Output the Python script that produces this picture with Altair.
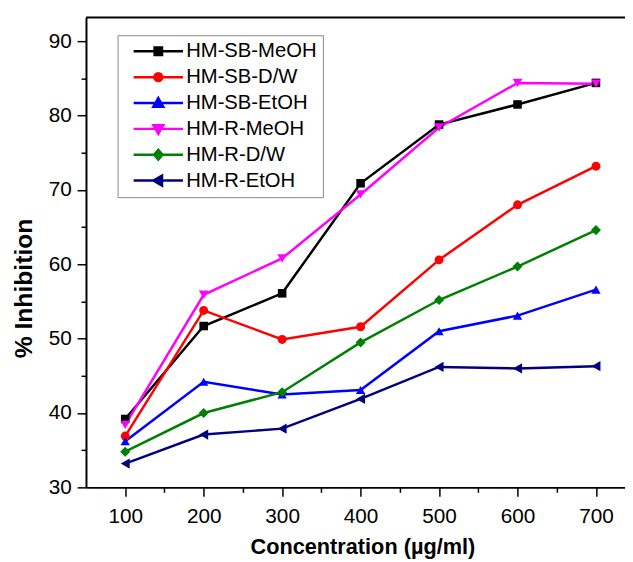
import altair as alt
import pandas as pd

# ---- data ----
conc = [100, 200, 300, 400, 500, 600, 700]
series_names = ["HM-SB-MeOH", "HM-SB-D/W", "HM-SB-EtOH", "HM-R-MeOH", "HM-R-D/W", "HM-R-EtOH"]
sb_meoh = [39.2, 51.7, 56.1, 70.9, 78.8, 81.5, 84.4]
sb_dw = [36.9, 53.8, 49.9, 51.6, 60.6, 68.0, 73.2]
sb_etoh = [36.2, 44.2, 42.5, 43.1, 51.0, 53.1, 56.6]
r_meoh = [38.4, 55.9, 60.8, 69.4, 78.4, 84.4, 84.3]
r_dw = [34.8, 40.0, 42.8, 49.5, 55.2, 59.7, 64.6]
r_etoh = [33.2, 37.1, 37.9, 41.9, 46.2, 46.0, 46.3]

x_major = [100, 200, 300, 400, 500, 600, 700]
x_minor = [150, 250, 350, 450, 550, 650]
y_major = [30, 40, 50, 60, 70, 80, 90]
y_minor = [35, 45, 55, 65, 75, 85]

# ---- styles ----
colors = ["#000000", "#ff0000", "#0000ff", "#ff00ff", "#008000", "#000080"]
shapes = ["square", "circle", "triangle-up", "triangle-down", "diamond", "triangle-left"]
marker_sizes = [75, 110, 130, 130, 130, 120]
# legend glyphs: a 50px line with the marker on it (unit = 5px at symbolSize 100)
legend_paths = [
    "M-5,0H5M-0.75,-0.75H0.75V0.75H-0.75Z",
    "M-5,0H5M-0.8,0A0.8,0.8,0,1,0,0.8,0A0.8,0.8,0,1,0,-0.8,0Z",
    "M-5,0H5M0,-1L1,0.75L-1,0.75Z",
    "M-5,0H5M0,1L1,-0.75L-1,-0.75Z",
    "M-5,0H5M0,-1L0.85,0L0,1L-0.85,0Z",
    "M-5,0H5M-1,0L0.75,-1L0.75,1Z",
]

rows = []
for name, vals in zip(series_names, [sb_meoh, sb_dw, sb_etoh, r_meoh, r_dw, r_etoh]):
    for c, v in zip(conc, vals):
        rows.append({"conc": c, "inhib": v, "series": name})
df = pd.DataFrame(rows)

W, H = 546, 476
FONT = "Liberation Sans"

x_scale = alt.Scale(domain=[50, 737], nice=False, zero=False)
y_scale = alt.Scale(domain=[30, 93.2], nice=False, zero=False)

x_axis = alt.Axis(
    orient="bottom", values=x_major, format="d", grid=False,
    tickSize=9, tickWidth=1.5, tickColor="black",
    domainColor="black", domainWidth=2,
    labelFont=FONT, labelFontSize=21, labelColor="black", labelPadding=10,
    title="Concentration (µg/ml)", titleFont=FONT, titleFontSize=22,
    titleFontWeight="bold", titleColor="black",
    titleX=280, titleY=67, titleAlign="center", titleBaseline="alphabetic",
)
y_axis = alt.Axis(
    orient="left", values=y_major, format="d", grid=False,
    tickSize=9, tickWidth=1.5, tickColor="black",
    domainColor="black", domainWidth=2,
    labelFont=FONT, labelFontSize=21, labelColor="black", labelPadding=6,
    title="% Inhibition", titleFont=FONT, titleFontSize=25,
    titleFontWeight="bold", titleColor="black", titleAngle=270,
    titleX=-55, titleY=274, titleAlign="center", titleBaseline="alphabetic",
)
x_minor_axis = alt.Axis(
    orient="bottom", values=x_minor, grid=False, labels=False, domain=False,
    tickSize=5, tickWidth=1.5, tickColor="black", title=None,
)
y_minor_axis = alt.Axis(
    orient="left", values=y_minor, grid=False, labels=False, domain=False,
    tickSize=5, tickWidth=1.5, tickColor="black", title=None,
)

color_scale = alt.Scale(domain=series_names, range=colors)
base = alt.Chart(df)

lines = base.mark_line(strokeWidth=2.5).encode(
    x=alt.X("conc:Q", scale=x_scale, axis=x_axis),
    y=alt.Y("inhib:Q", scale=y_scale, axis=y_axis),
    color=alt.Color("series:N", scale=color_scale, legend=None),
)

points = base.mark_point(filled=True, opacity=1).encode(
    x=alt.X("conc:Q", scale=x_scale, axis=None),
    y=alt.Y("inhib:Q", scale=y_scale, axis=None),
    color=alt.Color("series:N", scale=color_scale, legend=None),
    shape=alt.Shape("series:N", scale=alt.Scale(domain=series_names, range=shapes), legend=None),
    size=alt.Size("series:N", scale=alt.Scale(domain=series_names, range=marker_sizes), legend=None),
)

leg = alt.Legend(title=None)
legend_layer = base.mark_point(filled=True, opacity=0).encode(
    x=alt.X("conc:Q", scale=x_scale, axis=None),
    y=alt.Y("inhib:Q", scale=y_scale, axis=None),
    color=alt.Color("series:N", scale=alt.Scale(domain=series_names, range=colors), legend=leg),
    stroke=alt.Stroke("series:N", scale=alt.Scale(domain=series_names, range=colors), legend=leg),
    shape=alt.Shape("series:N", scale=alt.Scale(domain=series_names, range=legend_paths), legend=leg),
)

minor = base.mark_point(opacity=0).encode(
    x=alt.X("conc:Q", scale=x_scale, axis=x_minor_axis),
    y=alt.Y("inhib:Q", scale=y_scale, axis=y_minor_axis),
)

top_rule = alt.Chart(pd.DataFrame({"k": [0]})).mark_rule(color="black", strokeWidth=2).encode(
    x=alt.value(0), x2=alt.value(W), y=alt.value(0)
)

chart = (
    alt.layer(lines, points, legend_layer, minor, top_rule)
    .resolve_scale(color="independent", shape="independent", size="independent", stroke="independent")
    .resolve_axis(x="independent", y="independent")
    .properties(
        width=W, height=H,
        padding={"left": 79, "top": 6, "right": 0, "bottom": 72},
        autosize=alt.AutoSizeParams(type="none"),
        background="white",
    )
    .configure_view(strokeWidth=0)
    .configure_legend(
        orient="none", legendX=32, legendY=18, padding=6,
        strokeColor="#888888", fillColor="white", cornerRadius=0,
        labelFont=FONT, labelFontSize=20.5, labelColor="black", labelOffset=18,
        symbolSize=100, symbolStrokeWidth=2.5, symbolOffset=25, rowPadding=5.2,
        symbolOpacity=1,
    )
)

chart.save("out.html", embed_options={"renderer": "svg", "actions": False})
